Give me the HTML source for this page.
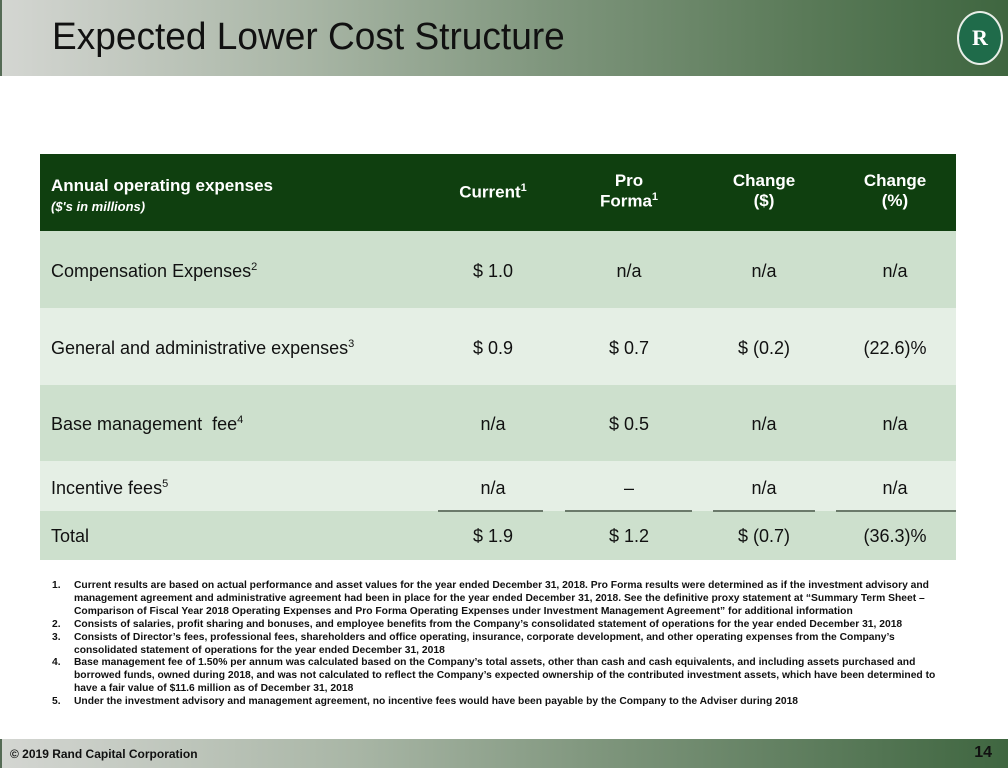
<!DOCTYPE html>
<html><head><meta charset="utf-8"><style>
body{margin:0;width:1008px;height:768px;position:relative;overflow:hidden;background:#fff;font-family:"Liberation Sans",sans-serif;}
.hdr{position:absolute;left:0;top:0;width:1008px;height:76px;background:linear-gradient(90deg,#d4d6d2 0%,#a9b6a6 30%,#7e957c 55%,#5a7a58 80%,#3f6640 100%);}
.hdr:before,.ftr:before{content:"";position:absolute;left:0;top:0;width:2px;height:100%;background:#556b55;}
.title{position:absolute;left:52px;top:16px;font-size:38px;color:#111;transform:scaleX(0.975);transform-origin:left;white-space:nowrap;}
.logo{position:absolute;left:957px;top:11px;width:46px;height:54px;border-radius:50%;background:#1f6b4a;border:2px solid #e8eee8;box-sizing:border-box;color:#fff;font:bold 22px "Liberation Serif",serif;text-align:center;line-height:50px;}
.ftr{position:absolute;left:0;top:739px;width:1008px;height:29px;background:linear-gradient(90deg,#d4d6d2 0%,#a9b6a6 35%,#7e957c 60%,#3f6640 100%);}
.ftr .c{position:absolute;left:10px;top:8px;font-size:12px;font-weight:bold;color:#111;}
.ftr .n{position:absolute;right:16px;top:5px;font-size:16px;font-weight:bold;color:#111;}
.row{position:absolute;left:40px;width:916px;font-size:18px;color:#111;}
.row div{position:absolute;text-align:center;}
.l{left:11px;text-align:left!important;}
.c1{left:410px;width:86px}.c2{left:526px;width:126px}.c3{left:674px;width:100px}.c4{left:794px;width:122px}
sup{font-size:11px;}
.ul{position:absolute;top:510px;height:2px;background:#6b7a6b;}
.fn{position:absolute;left:52px;top:580px;width:900px;font-size:10.3px;font-weight:bold;color:#111;line-height:12.9px;}
.fn div{position:relative;padding-left:22px;}
.fn span{position:absolute;left:0;}
</style></head><body>
<div class="hdr"><div class="title">Expected Lower Cost Structure</div><div class="logo">R</div></div>

<div class="row" style="top:154px;height:77px;background:#0f3f0f;color:#fff;font-weight:bold;font-size:17px;">
<div class="l" style="top:22px">Annual operating expenses<br><i style="font-size:13px">($'s in millions)</i></div>
<div class="c1" style="top:28px">Current<sup>1</sup></div>
<div class="c2" style="top:17px">Pro<br>Forma<sup>1</sup></div>
<div class="c3" style="top:17px">Change<br>($)</div>
<div class="c4" style="top:17px">Change<br>(%)</div>
</div>
<div class="row" style="top:231px;height:77px;background:#cde0cd;">
<div class="l" style="top:30px">Compensation Expenses<sup>2</sup></div>
<div class="c1" style="top:30px">$ 1.0</div><div class="c2" style="top:30px">n/a</div><div class="c3" style="top:30px">n/a</div><div class="c4" style="top:30px">n/a</div></div>
<div class="row" style="top:308px;height:77px;background:#e5efe5;">
<div class="l" style="top:30px">General and administrative expenses<sup>3</sup></div>
<div class="c1" style="top:30px">$ 0.9</div><div class="c2" style="top:30px">$ 0.7</div><div class="c3" style="top:30px">$ (0.2)</div><div class="c4" style="top:30px">(22.6)%</div></div>
<div class="row" style="top:385px;height:76px;background:#cde0cd;">
<div class="l" style="top:29px">Base management &nbsp;fee<sup>4</sup></div>
<div class="c1" style="top:29px">n/a</div><div class="c2" style="top:29px">$ 0.5</div><div class="c3" style="top:29px">n/a</div><div class="c4" style="top:29px">n/a</div></div>
<div class="row" style="top:461px;height:50px;background:#e5efe5;">
<div class="l" style="top:17px">Incentive fees<sup>5</sup></div>
<div class="c1" style="top:17px">n/a</div><div class="c2" style="top:17px">–</div><div class="c3" style="top:17px">n/a</div><div class="c4" style="top:17px">n/a</div></div>
<div class="row" style="top:511px;height:49px;background:#cde0cd;">
<div class="l" style="top:15px">Total</div>
<div class="c1" style="top:15px">$ 1.9</div><div class="c2" style="top:15px">$ 1.2</div><div class="c3" style="top:15px">$ (0.7)</div><div class="c4" style="top:15px">(36.3)%</div></div>
<div class="ul" style="left:438px;width:105px"></div>
<div class="ul" style="left:565px;width:127px"></div>
<div class="ul" style="left:713px;width:102px"></div>
<div class="ul" style="left:836px;width:120px"></div>

<div class="fn">
<div><span>1.</span>Current results are based on actual performance and asset values for the year ended December 31, 2018. Pro Forma results were determined as if the investment advisory and management agreement and administrative agreement had been in place for the year ended December 31, 2018. See the definitive proxy statement at “Summary Term Sheet – Comparison of Fiscal Year 2018 Operating Expenses and Pro Forma Operating Expenses under Investment Management Agreement” for additional information</div>
<div><span>2.</span>Consists of salaries, profit sharing and bonuses, and employee benefits from the Company’s consolidated statement of operations for the year ended December 31, 2018</div>
<div><span>3.</span>Consists of Director’s fees, professional fees, shareholders and office operating, insurance, corporate development, and other operating expenses from the Company’s consolidated statement of operations for the year ended December 31, 2018</div>
<div><span>4.</span>Base management fee of 1.50% per annum was calculated based on the Company’s total assets, other than cash and cash equivalents, and including assets purchased and borrowed funds, owned during 2018, and was not calculated to reflect the Company’s expected ownership of the contributed investment assets, which have been determined to have a fair value of $11.6 million as of December 31, 2018</div>
<div><span>5.</span>Under the investment advisory and management agreement, no incentive fees would have been payable by the Company to the Adviser during 2018</div>
</div>

<div class="ftr"><div class="c">© 2019 Rand Capital Corporation</div><div class="n">14</div></div>
</body></html>
